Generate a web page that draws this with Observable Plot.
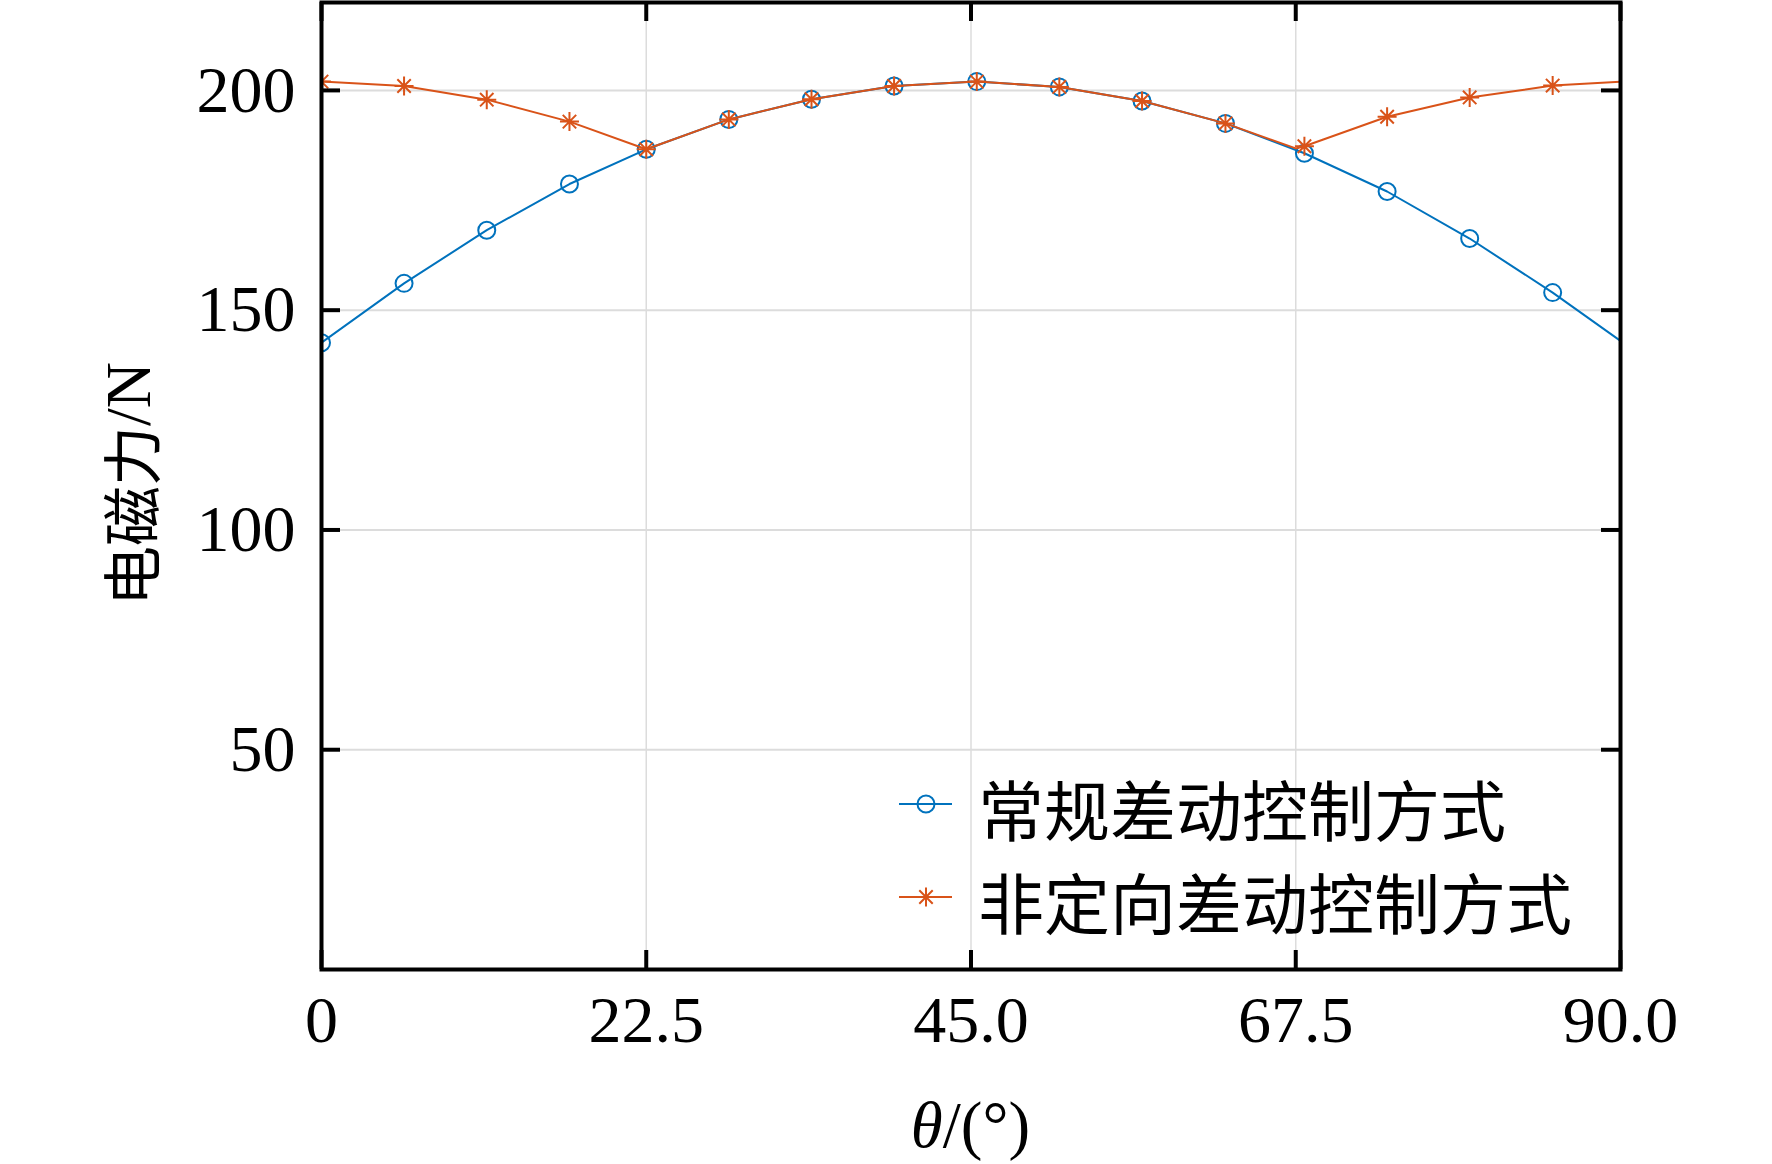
<!DOCTYPE html>
<html>
<head>
<meta charset="utf-8">
<script src="https://cdn.jsdelivr.net/npm/d3@7"></script>
<script src="https://cdn.jsdelivr.net/npm/@observablehq/plot@0.6"></script>
<style>
html, body { margin: 0; padding: 0; background: #fff; overflow: hidden; }
#chart svg { display: block; }
</style>
</head>
<body>
<div id="chart"></div>
<script>
// ---- data ----
const thetaMarkers   = [0, 5.72, 11.45, 17.18, 22.5, 28.22, 33.95, 39.67, 45.4, 51.12, 56.85, 62.63, 68.1, 73.83, 79.55, 85.3];
const conventional   = [142.6, 156.1, 168.2, 178.7, 186.6, 193.4, 198.0, 201.0, 202.0, 200.8, 197.6, 192.5, 185.7, 177.0, 166.3, 154.0];
const nondirectional = [202.0, 201.0, 197.9, 192.9, 186.6, 193.4, 198.0, 201.0, 202.0, 200.8, 197.6, 192.5, 187.3, 194.0, 198.4, 201.1];

const convLineTheta   = [0, 5.72, 11.45, 17.18, 22.5, 28.22, 33.95, 39.67, 45.4, 51.12, 56.85, 62.63, 68.1, 73.83, 79.55, 85.3, 90];
const convLineForce   = [142.6, 156.1, 168.2, 178.7, 186.6, 193.4, 198.0, 201.0, 202.0, 200.8, 197.6, 192.5, 185.7, 177.0, 166.3, 154.0, 143.0];
const nondirLineTheta = [0, 5.72, 11.45, 17.18, 22.5, 28.22, 33.95, 39.67, 45.4, 51.12, 56.85, 62.63, 67.5, 68.1, 73.83, 79.55, 85.3, 90];
const nondirLineForce = [202.0, 201.0, 197.9, 192.9, 186.6, 193.4, 198.0, 201.0, 202.0, 200.8, 197.6, 192.5, 186.8, 187.3, 194.0, 198.4, 201.1, 202.0];

const xTicks      = [0, 22.5, 45, 67.5, 90];
const xTickLabels = ["0", "22.5", "45.0", "67.5", "90.0"];
const yTicks      = [50, 100, 150, 200];
const yTickLabels = ["50", "100", "150", "200"];

const seriesNames = ["常规差动控制方式", "非定向差动控制方式"];
const yTitleCJK = "电磁力";
const yTitleUnit = "/N";
const xTitleSymbol = "θ";
const xTitleUnit = "/(°)";

// ---- styling ----
const W = 1772, H = 1164;
const mL = 321, mR = 152, mT = 2, mB = 195;
const innerW = W - mL - mR, innerH = H - mT - mB;
const blue = "#0072BD", orange = "#D95319";
const gridColor = "#dcdcdc";
const tickLen = 19;
const circleR = 8.5, starR = 9.5;

const asterisk = {
  draw(ctx, size) {
    const r = Math.sqrt(size / Math.PI);
    const d = r * Math.SQRT1_2;
    ctx.moveTo(0, -r); ctx.lineTo(0, r);
    ctx.moveTo(-r, 0); ctx.lineTo(r, 0);
    ctx.moveTo(-d, -d); ctx.lineTo(d, d);
    ctx.moveTo(-d, d); ctx.lineTo(d, -d);
  }
};

const convMarkers = thetaMarkers.map((t, i) => ({theta: t, force: conventional[i]}));
const nondirMarkers = thetaMarkers.map((t, i) => ({theta: t, force: nondirectional[i]}));
const convLine = convLineTheta.map((t, i) => ({theta: t, force: convLineForce[i]}));
const nondirLine = nondirLineTheta.map((t, i) => ({theta: t, force: nondirLineForce[i]}));

const chart = Plot.plot({
  width: W, height: H,
  marginLeft: mL, marginRight: mR, marginTop: mT, marginBottom: mB,
  x: {domain: [0, 90]},
  y: {domain: [0, 220]},
  style: {fontFamily: "'Liberation Serif', 'Times New Roman', serif", fontSize: "66px", background: "#fff", color: "#000"},
  marks: [
    Plot.gridX(xTicks, {stroke: gridColor, strokeOpacity: 1, strokeWidth: 1.5}),
    Plot.gridY(yTicks, {stroke: gridColor, strokeOpacity: 1, strokeWidth: 2}),
    Plot.line(convLine, {x: "theta", y: "force", stroke: blue, strokeWidth: 2, clip: true}),
    Plot.dot(convMarkers, {x: "theta", y: "force", r: circleR, stroke: blue, strokeWidth: 2, fill: "none", clip: true}),
    Plot.line(nondirLine, {x: "theta", y: "force", stroke: orange, strokeWidth: 2, clip: true}),
    Plot.dot(nondirMarkers, {x: "theta", y: "force", r: starR, symbol: asterisk, stroke: orange, strokeWidth: 2, fill: "none", clip: true}),
    // inward ticks on all four sides
    Plot.ruleX(xTicks, {stroke: "#000", strokeWidth: 4, insetTop: innerH - tickLen}),
    Plot.ruleX(xTicks, {stroke: "#000", strokeWidth: 4, insetBottom: innerH - tickLen}),
    Plot.ruleY(yTicks, {stroke: "#000", strokeWidth: 4, insetRight: innerW - tickLen}),
    Plot.ruleY(yTicks, {stroke: "#000", strokeWidth: 4, insetLeft: innerW - tickLen}),
    Plot.axisX(xTicks, {anchor: "bottom", tickSize: 0, tickPadding: 26, fontSize: 66, tickFormat: (d) => xTickLabels[xTicks.indexOf(d)], label: null}),
    Plot.axisY(yTicks, {anchor: "left", tickSize: 0, tickPadding: 26, fontSize: 66, tickFormat: (d) => yTickLabels[yTicks.indexOf(d)], label: null}),
    Plot.frame({stroke: "#000", strokeWidth: 4})
  ]
});

document.getElementById("chart").appendChild(chart);

// ---- titles and legend ----
const svg = d3.select(chart);
const cjkFont = "'Noto Sans CJK SC', 'Noto Sans', sans-serif";
const serifFont = "'Liberation Serif', 'Times New Roman', serif";

// y title
const yt = svg.append("text")
  .attr("transform", "translate(128,484) rotate(-90)")
  .attr("text-anchor", "middle")
  .attr("dominant-baseline", "central")
  .attr("fill", "#000");
yt.append("tspan").attr("font-family", cjkFont).attr("font-size", 60).text(yTitleCJK);
yt.append("tspan").attr("font-family", serifFont).attr("font-size", 64).text(yTitleUnit);

// x title
const xt = svg.append("text")
  .attr("x", mL + innerW / 2)
  .attr("y", 1147)
  .attr("text-anchor", "middle")
  .attr("font-family", serifFont)
  .attr("font-size", 65)
  .attr("fill", "#000");
xt.append("tspan").attr("font-style", "italic").text(xTitleSymbol);
xt.append("tspan").text(xTitleUnit);

// legend
const legendRows = [
  {name: seriesNames[0], color: blue, y: 804, sym: d3.symbolCircle, r: circleR},
  {name: seriesNames[1], color: orange, y: 897, sym: asterisk, r: starR}
];
const lg = svg.append("g").attr("class", "legend");
legendRows.forEach(row => {
  const g = lg.append("g");
  g.append("line").attr("x1", 899).attr("x2", 952).attr("y1", row.y).attr("y2", row.y)
    .attr("stroke", row.color).attr("stroke-width", 2);
  g.append("path")
    .attr("transform", `translate(926,${row.y})`)
    .attr("d", d3.symbol(row.sym, row.r * row.r * Math.PI)())
    .attr("fill", "none").attr("stroke", row.color).attr("stroke-width", 2);
  g.append("text")
    .attr("x", 978).attr("y", row.y + 3)
    .attr("text-anchor", "start")
    .attr("dominant-baseline", "central")
    .attr("font-family", cjkFont).attr("font-size", 66)
    .attr("fill", "#000")
    .text(row.name);
});
</script>
</body>
</html>
